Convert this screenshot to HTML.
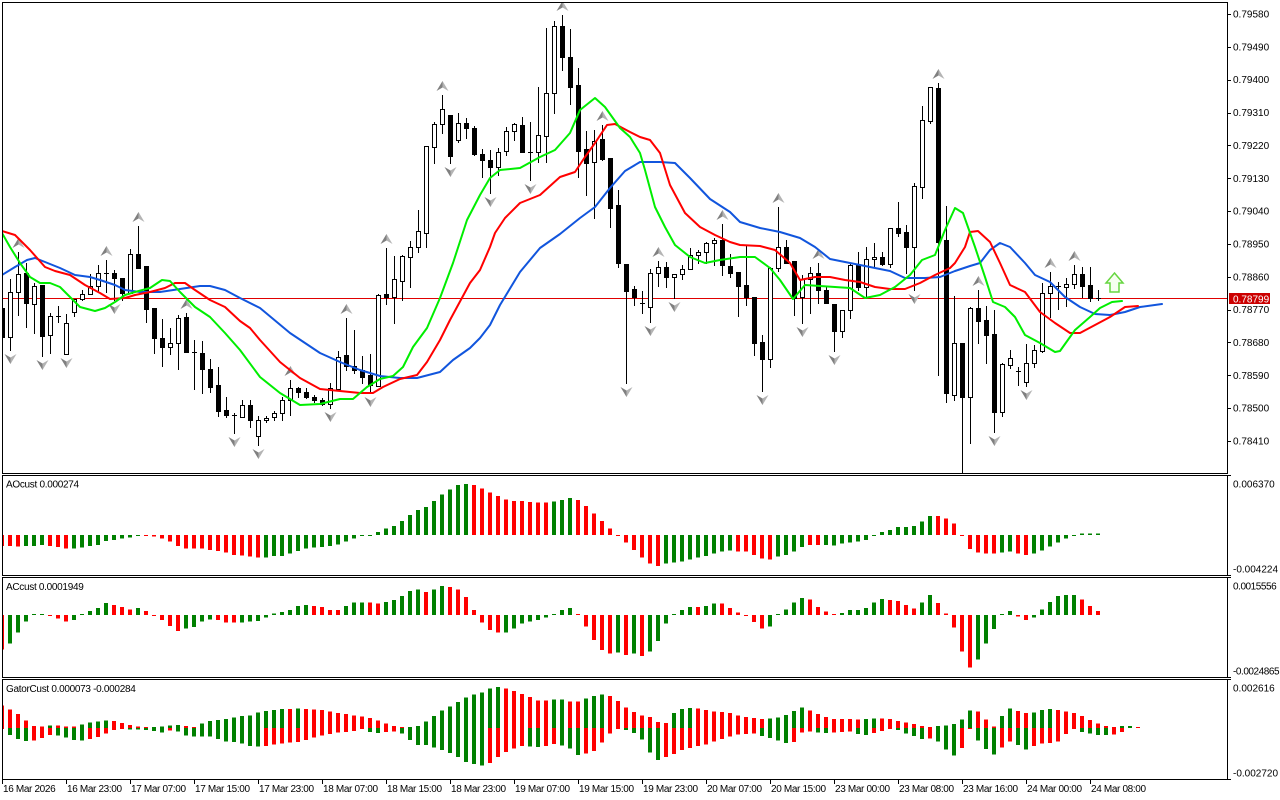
<!DOCTYPE html>
<html><head><meta charset="utf-8">
<style>
html,body{margin:0;padding:0;background:#fff;width:1280px;height:800px;overflow:hidden;}
svg{display:block;}
text{font-family:"Liberation Sans",Arial,sans-serif;font-size:10px;fill:#000;}
.t{letter-spacing:-0.35px;}
.p{letter-spacing:-0.3px;}
.n{letter-spacing:-0.45px;}
</style></head><body>
<svg id="s" width="1280" height="800" viewBox="0 0 1280 800" xmlns="http://www.w3.org/2000/svg">
<defs>
<clipPath id="cm"><rect x="3" y="3" width="1224" height="470"/></clipPath>
<clipPath id="cs"><rect x="3" y="476" width="1224" height="303"/></clipPath>
</defs>
<rect width="1280" height="800" fill="#fff"/>
<g id="main" clip-path="url(#cm)"></g>
<g id="sub" clip-path="url(#cs)"></g>
<g stroke="#000" stroke-width="1" fill="none" shape-rendering="crispEdges">
<path d="M2.5 2.5H1227.5V473.5H2.5Z M2.5 475.5H1227.5V575.5H2.5Z M2.5 577.5H1227.5V677.5H2.5Z M2.5 679.5H1227.5V779.5H2.5Z"/>
<path d="M1227 14.5H1231M1227 47.5H1231M1227 80.5H1231M1227 113.5H1231M1227 145.5H1231M1227 178.5H1231M1227 211.5H1231M1227 244.5H1231M1227 277.5H1231M1227 310.5H1231M1227 342.5H1231M1227 375.5H1231M1227 408.5H1231M1227 441.5H1231"/>
<path d="M1227 475.5H1231M1227 575.5H1231M1227 577.5H1231M1227 677.5H1231M1227 679.5H1231M1227 779.5H1231"/>
<path d="M2.5 779V784M66.5 779V784M130.5 779V784M194.5 779V784M258.5 779V784M322.5 779V784M386.5 779V784M450.5 779V784M514.5 779V784M578.5 779V784M642.5 779V784M706.5 779V784M770.5 779V784M834.5 779V784M898.5 779V784M962.5 779V784M1026.5 779V784M1090.5 779V784"/>
</g>
<g>
<text x="1233" y="17.5">0.79580</text>
<text x="1233" y="50.4">0.79490</text>
<text x="1233" y="83.2">0.79400</text>
<text x="1233" y="116.1">0.79310</text>
<text x="1233" y="148.9">0.79220</text>
<text x="1233" y="181.8">0.79130</text>
<text x="1233" y="214.6">0.79040</text>
<text x="1233" y="247.5">0.78950</text>
<text x="1233" y="280.3">0.78860</text>
<text x="1233" y="313.2">0.78770</text>
<text x="1233" y="346">0.78680</text>
<text x="1233" y="378.9">0.78590</text>
<text x="1233" y="411.7">0.78500</text>
<text x="1233" y="444.6">0.78410</text>
<rect x="1229" y="293" width="41" height="11" fill="#cc0000"/>
<text x="1233" y="302.5" style="fill:#fff">0.78799</text>
<text x="1233" y="487.5">0.006370</text>
<text x="1233" y="572.5">-0.004224</text>
<text class="n" x="1233" y="589.5">0.0015556</text>
<text class="n" x="1233" y="674.5">-0.0024865</text>
<text x="1233" y="691.5">0.002616</text>
<text x="1233" y="776.5">-0.002720</text>
<text class="p" x="6" y="487.5">AOcust 0.000274</text>
<text class="p" x="6" y="590">ACcust 0.0001949</text>
<text class="p" x="6" y="692">GatorCust 0.000073 -0.000284</text>
<text class="t" x="3" y="792">16 Mar 2026</text>
<text class="t" x="67" y="792">16 Mar 23:00</text>
<text class="t" x="131" y="792">17 Mar 07:00</text>
<text class="t" x="195" y="792">17 Mar 15:00</text>
<text class="t" x="259" y="792">17 Mar 23:00</text>
<text class="t" x="323" y="792">18 Mar 07:00</text>
<text class="t" x="387" y="792">18 Mar 15:00</text>
<text class="t" x="451" y="792">18 Mar 23:00</text>
<text class="t" x="515" y="792">19 Mar 07:00</text>
<text class="t" x="579" y="792">19 Mar 15:00</text>
<text class="t" x="643" y="792">19 Mar 23:00</text>
<text class="t" x="707" y="792">20 Mar 07:00</text>
<text class="t" x="771" y="792">20 Mar 15:00</text>
<text class="t" x="835" y="792">23 Mar 00:00</text>
<text class="t" x="899" y="792">23 Mar 08:00</text>
<text class="t" x="963" y="792">23 Mar 16:00</text>
<text class="t" x="1027" y="792">24 Mar 00:00</text>
<text class="t" x="1091" y="792">24 Mar 08:00</text>
</g>
</svg>
<script>
(function(){
const NS="http://www.w3.org/2000/svg";
function el(p,tag,a){const e=document.createElementNS(NS,tag);for(const k in a)e.setAttribute(k,a[k]);p.appendChild(e);return e;}
const M=document.getElementById('main'),S=document.getElementById('sub');
const cx=k=>2+8*k;
const C=[[308,305,340,337],[337,279,350,292],[292,252,315,274],[273,263,327,303],[304,283,333,286],[285,285,356,336],[335,313,353,316],[316,306,322,316],[354,314,354,323],[312,299,316,299],
[299,290,300,294],[294,274,294,286],[286,265,292,273],[273,260,292,273],[273,270,300,278],[278,278,300,293],[293,249,293,254],[254,226,268,268],[266,266,322,309],[308,308,353,338],
[338,319,366,347],[347,328,354,343],[343,315,369,318],[317,313,352,352],[352,340,389,352],[353,341,393,369],[369,359,392,387],[385,367,416,411],[410,397,417,415],[415,413,433,415],
[417,400,417,405],[405,400,427,420],[436,416,445,420],[420,416,422,418],[417,411,420,413],[413,397,420,400],[400,380,415,388],[388,387,397,392],[392,388,398,397],[397,395,402,400],
[400,398,405,404],[404,383,408,388],[389,351,390,357],[355,318,370,366],[366,330,373,370],[370,356,383,377],[375,354,393,385],[386,294,386,295],[294,248,304,297],[297,256,323,279],
[281,255,300,256],[257,241,287,247],[247,210,252,231],[233,146,247,146],[147,122,163,124],[124,95,133,109],[115,115,163,156],[140,113,142,123],[123,118,138,128],[128,126,155,154],
[154,149,177,160],[160,150,193,167],[167,148,175,152],[151,127,155,131],[131,123,140,124],[125,117,152,152],[152,122,180,152],[152,87,162,135],[136,28,162,93],[93,21,113,26],
[26,15,70,57],[57,29,104,87],[85,68,177,151],[149,131,195,163],[162,130,218,141],[139,125,160,159],[158,158,227,208],[205,190,267,263],[264,264,383,291],[289,286,305,297],
[303,291,313,303],[307,269,322,273],[273,261,286,267],[267,262,287,277],[277,274,298,274],[274,265,279,269],[269,248,269,255],[255,250,263,252],[252,242,263,243],[243,238,265,240],
[240,224,275,265],[266,254,277,273],[272,272,316,286],[285,245,305,297],[297,297,355,343],[342,335,391,359],[359,267,367,268],[268,207,271,247],[247,240,263,263],[261,261,315,298],
[297,275,323,279],[279,267,313,273],[273,263,303,290],[290,287,303,303],[304,304,351,331],[331,310,337,310],[310,263,318,265],[265,252,290,287],[287,247,297,259],[259,243,267,257],
[257,252,265,264],[264,228,267,228],[228,202,236,233],[232,225,273,247],[247,183,290,186],[187,106,198,120],[121,87,123,87],[88,83,375,242],[240,206,402,393],[395,296,400,343],
[343,343,472,397],[397,307,443,308],[308,290,343,321],[320,306,363,335],[334,310,432,412],[412,363,416,364],[365,350,368,358],[371,367,385,371],[382,344,386,363],[363,345,367,350],
[351,283,352,293],[293,272,317,286],[286,282,309,286],[287,278,306,284],[284,265,288,274],[274,267,297,286],[285,267,301,298],[298,290,300,299]];

const B=[[2,275],[15,267],[27,260],[35,258],[45,262],[60,268],[75,275],[90,277],[100,280],[115,285],[125,290],[140,292],[160,292],[180,289],[200,286],[210,286],[225,290],[240,298],[260,308],[290,333],[320,353],[340,362],[360,370],[380,376],[400,378],[417,378],[440,372],[453,360],[470,348],[480,338],[490,325],[500,305],[520,272],[540,248],[560,234],[580,218],[595,207],[610,188],[625,171],[640,162],[660,162],[675,163],[690,178],[710,199],[730,212],[740,222],[760,228],[780,232],[800,238],[815,247],[830,259],[845,262],[860,265],[875,268],[890,271],[905,278],[925,278],[940,277],[955,271],[970,266],[980,263],[990,250],[1000,243],[1010,247],[1025,263],[1035,275],[1050,282],[1065,297],[1080,307],[1095,314],[1110,315],[1125,312],[1140,307],[1162,304]];
const R=[[2,231],[15,235],[30,250],[45,267],[55,271],[70,275],[85,285],[100,293],[110,299],[125,298],[135,295],[150,292],[165,288],[175,283],[185,283],[195,290],[210,300],[225,307],[240,321],[250,328],[260,340],[280,362],[300,378],[320,389],[340,391],[360,393],[373,393],[383,387],[400,379],[417,375],[427,362],[440,340],[450,320],[470,283],[480,270],[490,247],[495,233],[505,218],[520,203],[540,195],[560,177],[575,172],[585,157],[595,143],[607,125],[615,124],[630,132],[640,137],[650,140],[660,153],[670,185],[685,213],[700,227],[715,235],[730,242],[740,245],[760,246],[775,250],[790,263],[800,280],[815,277],[830,277],[845,280],[860,282],[875,287],[890,289],[905,289],[920,283],[935,275],[950,268],[955,263],[965,247],[970,232],[978,231],[990,242],[1000,263],[1010,285],[1025,292],[1040,312],[1055,323],[1070,333],[1080,333],[1095,325],[1110,317],[1125,307],[1138,306]];
const G=[[2,233],[10,247],[20,263],[30,277],[40,283],[50,283],[60,287],[70,297],[80,307],[95,311],[105,308],[115,302],[125,295],[135,292],[150,288],[162,280],[170,281],[180,292],[195,307],[210,317],[225,333],[240,350],[260,377],[280,393],[300,405],[320,404],[340,399],[353,399],[367,387],[380,379],[393,376],[403,367],[413,347],[427,328],[440,298],[453,263],[467,220],[480,195],[490,178],[500,170],[520,168],[540,157],[555,150],[570,133],[580,110],[595,98],[605,107],[620,128],[630,137],[640,153],[645,170],[655,207],[665,227],[675,245],[690,257],[705,263],[720,260],[740,257],[755,257],[770,268],[780,280],[793,299],[805,285],[820,286],[835,287],[850,288],[865,298],[880,295],[895,287],[910,275],[922,260],[935,255],[945,230],[955,208],[963,213],[975,247],[985,277],[993,302],[1005,307],[1015,317],[1025,335],[1040,343],[1055,352],[1060,351],[1075,330],[1090,317],[1100,308],[1112,302],[1122,301]];

el(M,'line',{x1:2,y1:298.5,x2:1227,y2:298.5,stroke:'#e00000','stroke-width':1,'shape-rendering':'crispEdges'});
C.forEach((d,k)=>{const c=cx(k);const o=d[0],h=d[1],l=d[2],cl=d[3];
 el(M,'line',{x1:c+0.5,y1:h,x2:c+0.5,y2:l+1,stroke:'#000','stroke-width':1,'shape-rendering':'crispEdges'});
 if(Math.abs(o-cl)<=1){el(M,'line',{x1:c-2,y1:o+0.5,x2:c+3,y2:o+0.5,stroke:'#000','stroke-width':1,'shape-rendering':'crispEdges'});}
 else{const t=Math.min(o,cl),b=Math.max(o,cl);el(M,'rect',{x:c-1.5,y:t+0.5,width:4,height:b-t,fill:cl<o?'#fff':'#000',stroke:'#000','stroke-width':1,'shape-rendering':'crispEdges'});}
});
const UP=[2,13,17,23,36,43,48,55,70,75,82,90,97,102,117,122,131,134];
const DN=[1,5,8,14,29,32,41,46,56,61,66,78,81,84,95,100,104,114,120,124,128];
function poly(p,pts,f){el(p,'polygon',{points:pts.map(a=>a.join(',')).join(' '),fill:f});}
UP.forEach(k=>{const c=cx(k)+0.5,h=C[k][1];
 poly(M,[[c,h-14],[c-6,h-4],[c,h-7.5]],'#808080');poly(M,[[c,h-14],[c,h-7.5],[c+6,h-4]],'#b4b4b4');});
DN.forEach(k=>{const c=cx(k)+0.5,l=C[k][2];
 poly(M,[[c,l+14],[c-6,l+4],[c,l+7.5]],'#808080');poly(M,[[c,l+14],[c,l+7.5],[c+6,l+4]],'#b4b4b4');});
function pl(P,col){el(M,'polyline',{points:P.map(a=>a.join(',')).join(' '),fill:'none',stroke:col,'stroke-width':2,'stroke-linejoin':'round','stroke-linecap':'round'});}
pl(B,'#1155dd');pl(R,'#ff0000');pl(G,'#00ee00');
el(M,'polygon',{points:'1114.5,273 1123,283 1119,283 1119,292 1110,292 1110,283 1106,283',fill:'#f6fff0',stroke:'#66d640','stroke-width':1.5});

const GR='#008000',RD='#ff0000';
function bar(c,zero,v,col){const h=Math.max(Math.abs(v),1);el(S,'rect',{x:c-2,y:v>=0?zero-h:zero,width:4,height:h,fill:col,'shape-rendering':'crispEdges'});}
const AO=[-11,-11,-11.7,-11,-11,-10,-11,-12,-13.7,-13.7,-12.7,-11,-10,-6,-5,-3.7,-2.7,-0.7,-1,-1.7,-3.7,-6.7,-11,-13.3,-13.7,-13.7,-15,-16,-17.7,-20,-20.3,-21.7,-22.7,-22.7,-21,-21,-18.7,-16,-13.7,-12.7,-12,-11,-9.7,-6.7,-3.7,-1,-0.7,3,6.3,9,14,20,25,28,34,40.7,45.7,50,51,50,46.3,42.3,39,35.7,34,34,33,32.3,32.3,33.3,35,37,35,29,21.7,14,6.3,-0.7,-7.7,-15,-22.7,-28.7,-31,-28.7,-27.7,-26.7,-24.3,-22.7,-21,-18.7,-16.7,-15.3,-16.7,-16.7,-20,-23.7,-24.7,-21.7,-20,-16.7,-12,-10,-10,-10,-10.3,-8.7,-7.7,-6.7,-5,-0.7,3,5,8,8,9,13.3,19,19,16.3,11.3,-0.7,-14,-17.7,-18.7,-18.7,-17.7,-16.7,-18.7,-20,-18.7,-15.3,-11.7,-7.7,-3.7,-0.7,1.3,1.3,1.3];
const AOc="rrrgggrrrg"+"ggggggggrr"+"rrrrrrrrrr"+"rrrggggggg"+"gggggggggg"+"gggggggggr"+"rrrrrrrrrg"+"ggrrrrrrrr"+"rrrggggggg"+"ggrrrrrggg"+"grrggggggg"+"gggggggrrr"+"rrrrrggrrg"+"gggggggg";
AO.forEach((v,k)=>bar(cx(k),535,v,AOc[k]==='g'?GR:RD));
const AC=[-34.3,-28.7,-17.7,-6.7,0.7,0.5,-0.5,-3.7,-6.7,-5,0.5,4,7,12,10,8,5.7,7,4,-0.5,-5,-11,-16,-13.7,-12,-6.7,-4.3,-5,-7.7,-7.7,-7.7,-6.7,-6,-2.7,1.3,3,5,9,10,9,8,5,5,9,12.3,12.3,12.3,11.3,13,15,19,24,25.7,23,25.7,29,28,25.7,18,5,-7.7,-15,-17.7,-17.7,-13.7,-8.7,-6.7,-5,-2.7,0.5,5,7,1,-11.7,-25,-35,-38.7,-37.7,-40,-38.7,-41,-36.7,-26,-8.7,0.5,5,8,8,9,11.3,11.3,7,2.3,-0.5,-7,-13.7,-11.7,0.3,5.7,12.3,17,15.7,8,3.3,1,2,5,5,7,12.3,16,15,14,10,6.3,12.3,20,12,1.3,-12.7,-36.7,-52.7,-44.7,-28.7,-14,0.3,4,-1.7,-5,-2.7,5.7,13,19,20,20,15.7,9,4];
const ACc="rgggggrrrg"+"ggggrrrgrr"+"rrrggggrrr"+"gggggggggr"+"rrrgggrrgg"+"gggrggrrrr"+"rrrggggggg"+"ggrrrrrgrg"+"rggggggrgg"+"rrrrrrgggg"+"grrrrggggg"+"grrrrggrrr"+"rrgggggrrg"+"gggggrrr";
AC.forEach((v,k)=>bar(cx(k),615,v,ACc[k]==='g'?GR:RD));
function interp(P,x){if(x<P[0][0]-0.01||x>P[P.length-1][0]+0.01)return null;for(let i=0;i<P.length-1;i++){if(x<=P[i+1][0]){const t=(x-P[i][0])/(P[i+1][0]-P[i][0]);return P[i][1]+t*(P[i+1][1]-P[i][1]);}}return P[P.length-1][1];}
let pu=Infinity,pw=Infinity,cu=RD,cw=GR;
for(let k=0;k<=143;k++){const c=cx(k);const j=interp(B,c),t=interp(R,c),g=interp(G,c);
 if(j!==null&&t!==null){const u=Math.abs(j-t)*0.508;cu=u>pu?GR:(u<pu?RD:cu);pu=u;el(S,'rect',{x:c-2,y:728-Math.max(u,1),width:4,height:Math.max(u,1),fill:cu,'shape-rendering':'crispEdges'});}
 if(t!==null&&g!==null){const w=Math.abs(t-g)*0.508;cw=w>pw?GR:(w<pw?RD:cw);pw=w;el(S,'rect',{x:c-2,y:728,width:4,height:Math.max(w,1),fill:cw,'shape-rendering':'crispEdges'});}
}
})();
</script>
</body></html>
